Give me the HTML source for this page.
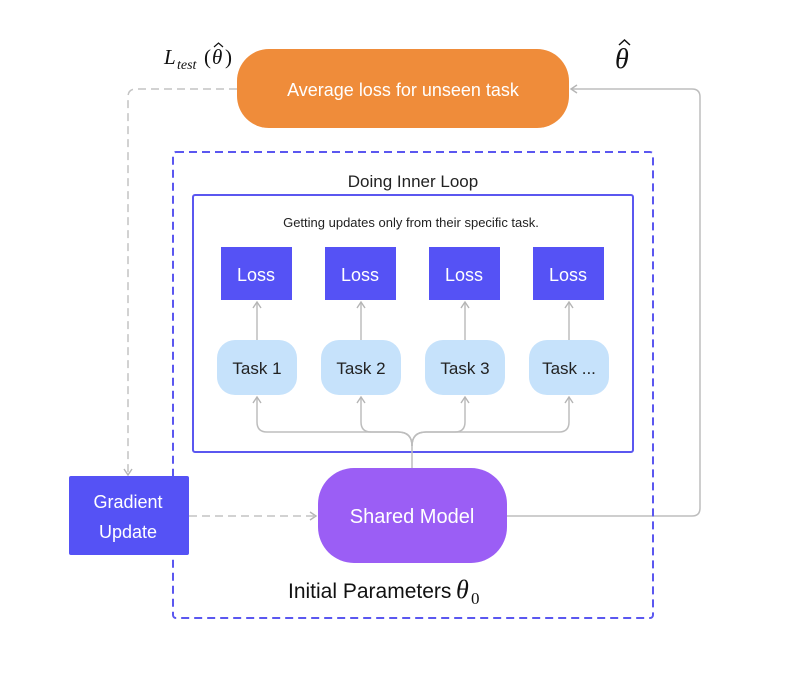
<!DOCTYPE html>
<html><head><meta charset="utf-8"><style>
body{margin:0;background:#fff;}
svg text{font-family:"Liberation Sans",sans-serif;}
</style></head><body>
<svg width="790" height="674" viewBox="0 0 790 674" xmlns="http://www.w3.org/2000/svg">
<defs>
<marker id="a" markerWidth="10" markerHeight="10" refX="8" refY="5" orient="auto" markerUnits="userSpaceOnUse">
<path d="M2,1 L8,5 L2,9" fill="none" stroke="#b5b5b5" stroke-width="1.4"/></marker>
</defs>
<rect width="790" height="674" fill="#fff"/>
<path d="M507,516 H692 Q700,516 700,508 V97 Q700,89 692,89 H571" fill="none" stroke="#bdbdbd" stroke-width="1.5" marker-end="url(#a)"/>
<path d="M237,89 H136 Q128,89 128,97 V475" fill="none" stroke="#c4c4c4" stroke-width="1.5" stroke-dasharray="8,5" marker-end="url(#a)"/>
<path d="M189,516 H316" fill="none" stroke="#c4c4c4" stroke-width="1.5" stroke-dasharray="8,5" marker-end="url(#a)"/>
<rect x="173" y="152" width="480" height="466" rx="3" fill="none" stroke="#5b57f0" stroke-width="2" stroke-dasharray="8,5"/>
<rect x="237" y="49" width="332" height="79" rx="32" fill="#ef8c3a"/>
<text x="403" y="96" text-anchor="middle" font-size="18" fill="#fff">Average loss for unseen task</text>
<g font-family="Liberation Serif" fill="#111">
<text x="164" y="64" font-style="italic" font-size="21" style="font-family:'Liberation Serif',serif">L</text>
<text x="177" y="69" font-style="italic" font-size="14" style="font-family:'Liberation Serif',serif">test</text>
<text x="204" y="64" font-size="21" style="font-family:'Liberation Serif',serif">(</text>
<text x="212" y="64" font-style="italic" font-size="21" style="font-family:'Liberation Serif',serif">θ</text>
<path d="M214,47 L218.5,43 L223,47" fill="none" stroke="#111" stroke-width="1.2"/>
<text x="225" y="64" font-size="21" style="font-family:'Liberation Serif',serif">)</text>
<text x="615" y="68" font-style="italic" font-size="28" style="font-family:'Liberation Serif',serif">θ</text>
<path d="M619,45 L624.5,40 L630,45" fill="none" stroke="#111" stroke-width="1.5"/>
</g>
<text x="413" y="187" text-anchor="middle" font-size="17" fill="#222">Doing Inner Loop</text>
<rect x="193" y="195" width="440" height="257" rx="2" fill="none" stroke="#5b57f0" stroke-width="2"/>
<text x="411" y="227" text-anchor="middle" font-size="13" fill="#222">Getting updates only from their specific task.</text>
<g font-size="18" text-anchor="middle">
<rect x="221" y="247" width="71" height="53" fill="#5552f5"/><text x="256" y="281" fill="#fff">Loss</text>
<rect x="325" y="247" width="71" height="53" fill="#5552f5"/><text x="360" y="281" fill="#fff">Loss</text>
<rect x="429" y="247" width="71" height="53" fill="#5552f5"/><text x="464" y="281" fill="#fff">Loss</text>
<rect x="533" y="247" width="71" height="53" fill="#5552f5"/><text x="568" y="281" fill="#fff">Loss</text>
</g>
<g stroke="#bdbdbd" stroke-width="1.5" fill="none">
<path d="M257,340 V302" marker-end="url(#a)"/>
<path d="M361,340 V302" marker-end="url(#a)"/>
<path d="M465,340 V302" marker-end="url(#a)"/>
<path d="M569,340 V302" marker-end="url(#a)"/>
<path d="M412,468 V446 Q412,432 398,432 H267 Q257,432 257,422 V397" marker-end="url(#a)"/>
<path d="M412,446 Q412,432 398,432 H371 Q361,432 361,422 V397" marker-end="url(#a)"/>
<path d="M412,446 Q412,432 426,432 H455 Q465,432 465,422 V397" marker-end="url(#a)"/>
<path d="M412,446 Q412,432 426,432 H559 Q569,432 569,422 V397" marker-end="url(#a)"/>
</g>
<g font-size="17" text-anchor="middle" fill="#222">
<rect x="217" y="340" width="80" height="55" rx="18" fill="#c6e2fb"/><text x="257" y="374">Task 1</text>
<rect x="321" y="340" width="80" height="55" rx="18" fill="#c6e2fb"/><text x="361" y="374">Task 2</text>
<rect x="425" y="340" width="80" height="55" rx="18" fill="#c6e2fb"/><text x="465" y="374">Task 3</text>
<rect x="529" y="340" width="80" height="55" rx="18" fill="#c6e2fb"/><text x="569" y="374">Task ...</text>
</g>
<rect x="318" y="468" width="189" height="95" rx="36" fill="#9b5ef5"/>
<text x="412" y="523" text-anchor="middle" font-size="20" fill="#fff">Shared Model</text>
<rect x="69" y="476" width="120" height="79" rx="2" fill="#5552f5"/>
<text x="128" y="508" text-anchor="middle" font-size="18" fill="#fff">Gradient</text>
<text x="128" y="538" text-anchor="middle" font-size="18" fill="#fff">Update</text>
<text x="288" y="598" font-size="21" fill="#111">Initial Parameters</text>
<text x="456" y="598" font-size="26" font-style="italic" fill="#111" style="font-family:'Liberation Serif',serif">θ</text>
<text x="471" y="604" font-size="17" fill="#111" style="font-family:'Liberation Serif',serif">0</text>
</svg>
</body></html>
